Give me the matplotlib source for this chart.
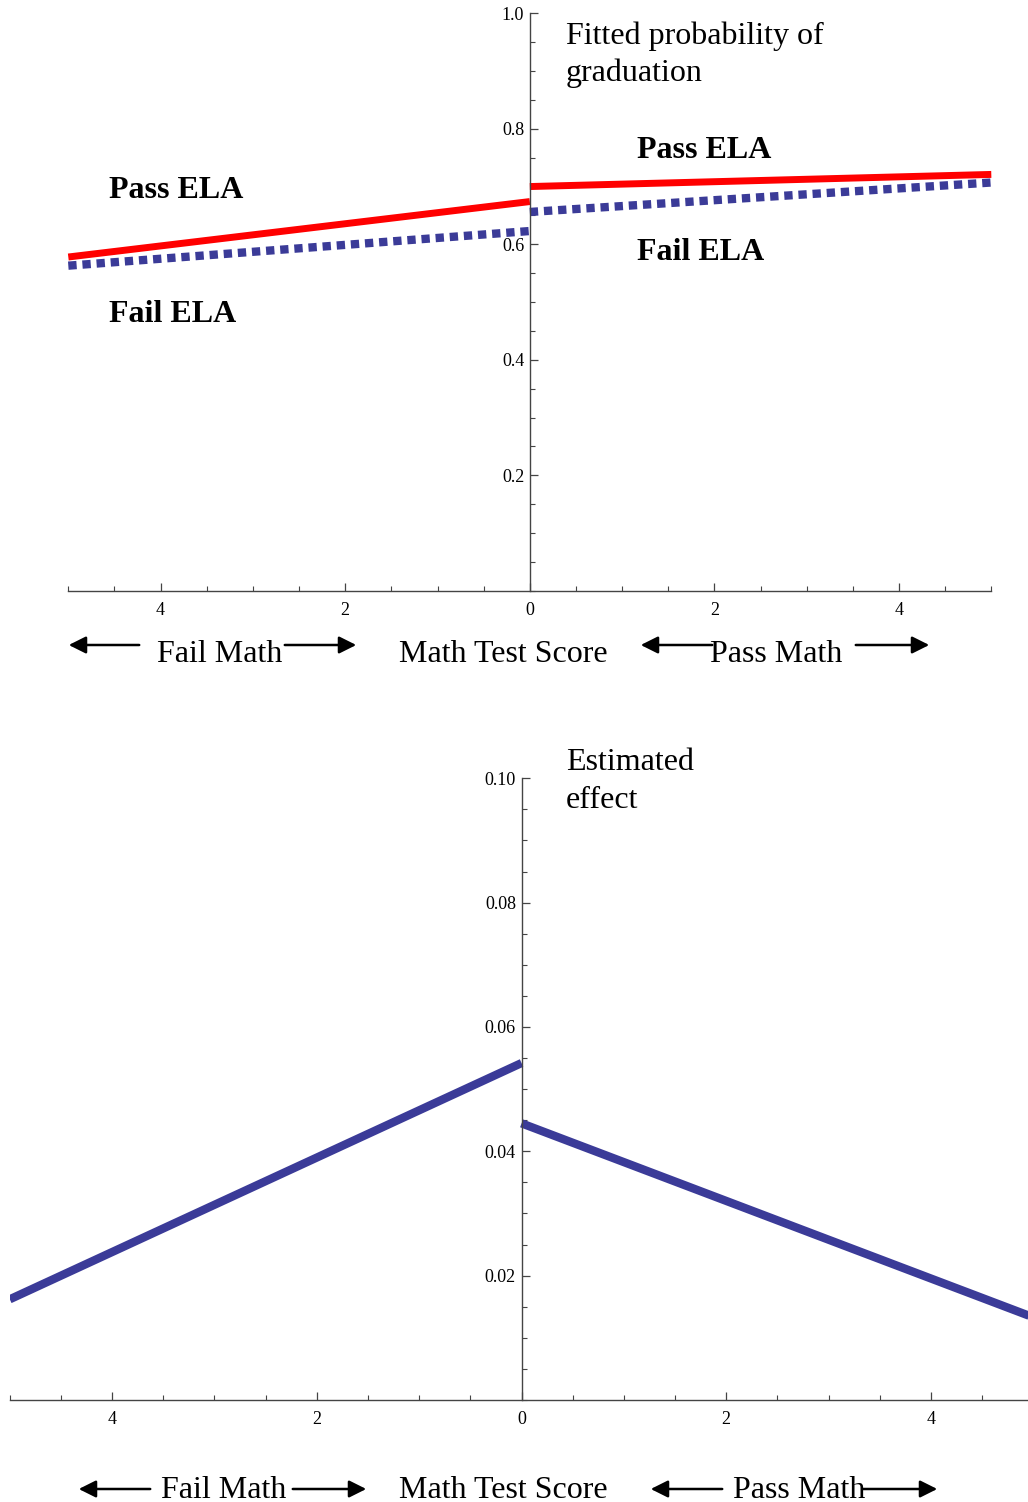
import matplotlib.pyplot as plt
from matplotlib.patches import FancyArrowPatch
from matplotlib.ticker import FuncFormatter, MultipleLocator

plt.rcParams['font.family'] = ['Liberation Serif', 'DejaVu Serif']

# data (x = math test score relative to cutoff)
x_fail = [-5, 0]
x_pass = [0, 5]
pass_ela_fail = [0.578, 0.674]
pass_ela_pass = [0.700, 0.721]
fail_ela_fail = [0.563, 0.623]
fail_ela_pass = [0.656, 0.707]
effect_fail = [0.0162, 0.0542]
effect_pass = [0.0445, 0.0133]

x_ticks = [-4, -2, 0, 2, 4]
top_yticks = [0.2, 0.4, 0.6, 0.8, 1.0]
bot_yticks = [0.02, 0.04, 0.06, 0.08, 0.10]

RED = '#ff0000'
BLUE = '#3b3b98'
AXC = '#444444'

W, H = 1028, 1502
fig = plt.figure(figsize=(W / 100, H / 100), dpi=100)


def px(x, y):
    # pixel position (from top-left) -> figure fraction; small shift so
    # va='center' lands on the visual middle of the glyphs
    return (x / W, 1 - (y + 3) / H)


def style_axes(ax, minor_x, minor_y):
    for s in ['top', 'right']:
        ax.spines[s].set_visible(False)
    ax.spines['left'].set_position(('data', 0))
    ax.spines['bottom'].set_position(('data', 0))
    for s in ['left', 'bottom']:
        ax.spines[s].set_color(AXC)
        ax.spines[s].set_linewidth(1.0)
        ax.spines[s].set_clip_on(False)
    ax.xaxis.set_minor_locator(MultipleLocator(minor_x))
    ax.yaxis.set_minor_locator(MultipleLocator(minor_y))
    ax.tick_params(which='major', direction='in', length=6, width=0.9,
                   color=AXC, labelsize=13)
    ax.tick_params(which='minor', direction='in', length=3.5, width=0.8,
                   color=AXC)
    ax.tick_params(axis='x', pad=8)
    ax.tick_params(axis='y', pad=4)
    ax.xaxis.set_major_formatter(FuncFormatter(lambda v, p: f'{abs(v):g}'))
    ax.patch.set_visible(False)


# ---- top panel: fitted probability ----
ax1 = fig.add_axes([68.3 / W, 1 - 590.8 / H, 923 / W, 577.5 / H])
ax1.set_xlim(-5, 5)
ax1.set_ylim(0, 1.0)
style_axes(ax1, 0.5, 0.05)
ax1.set_xticks(x_ticks)
ax1.set_yticks(top_yticks)
ax1.yaxis.set_major_formatter(FuncFormatter(lambda v, p: f'{v:.1f}'))

ax1.plot(x_fail, pass_ela_fail, color=RED, lw=5, solid_capstyle='butt', clip_on=False)
ax1.plot(x_pass, pass_ela_pass, color=RED, lw=5, solid_capstyle='butt', clip_on=False)
ax1.plot(x_fail, fail_ela_fail, color=BLUE, lw=6, ls=(0, (1, 0.7)), clip_on=False)
ax1.plot(x_pass, fail_ela_pass, color=BLUE, lw=6, ls=(0, (1, 0.7)), clip_on=False)

lab = dict(fontsize=23, fontweight='bold', va='center')
fig.text(*px(109, 187), 'Pass ELA', **lab)
fig.text(*px(109, 311), 'Fail ELA', **lab)
fig.text(*px(637, 147), 'Pass ELA', **lab)
fig.text(*px(637, 249), 'Fail ELA', **lab)
fig.text(*px(566, 33), 'Fitted probability of', fontsize=23, va='center')
fig.text(*px(566, 70), 'graduation', fontsize=23, va='center')

# ---- bottom panel: estimated effect ----
ax2 = fig.add_axes([9.8 / W, 1 - 1400 / H, 1023.5 / W, 621.7 / H])
ax2.set_xlim(-5, 5)
ax2.set_ylim(0, 0.10)
style_axes(ax2, 0.5, 0.005)
ax2.set_xticks(x_ticks)
ax2.set_yticks(bot_yticks)
ax2.yaxis.set_major_formatter(FuncFormatter(lambda v, p: f'{v:.2f}'))

ax2.plot(x_fail, effect_fail, color=BLUE, lw=6, solid_capstyle='butt')
ax2.plot(x_pass, effect_pass, color=BLUE, lw=6, solid_capstyle='butt')

fig.text(*px(566, 760), 'Estimated', fontsize=23, va='center')
fig.text(*px(566, 797), 'effect', fontsize=23, va='center')


# ---- axis captions with arrows ----
def arrow(x0, x1, y):
    fig.add_artist(FancyArrowPatch(
        px(x0, y), px(x1, y), transform=fig.transFigure,
        arrowstyle='-|>', mutation_scale=26, lw=1.8, color='black'))


def caption_row(y, y_arrow, texts, arrows):
    for txt, xc in texts:
        fig.text(*px(xc, y), txt, fontsize=23, ha='center', va='center')
    for a, b in arrows:
        arrow(a, b, y_arrow - 3)


caption_row(651, 645, [('Fail Math', 220), ('Math Test Score', 503), ('Pass Math', 776)],
            [(142, 66), (282, 359), (715, 638), (853, 932)])
caption_row(1487, 1489, [('Fail Math', 224), ('Math Test Score', 503), ('Pass Math', 799)],
            [(153, 76), (290, 369), (725, 648), (860, 940)])

fig.savefig('out.png', dpi=100)
